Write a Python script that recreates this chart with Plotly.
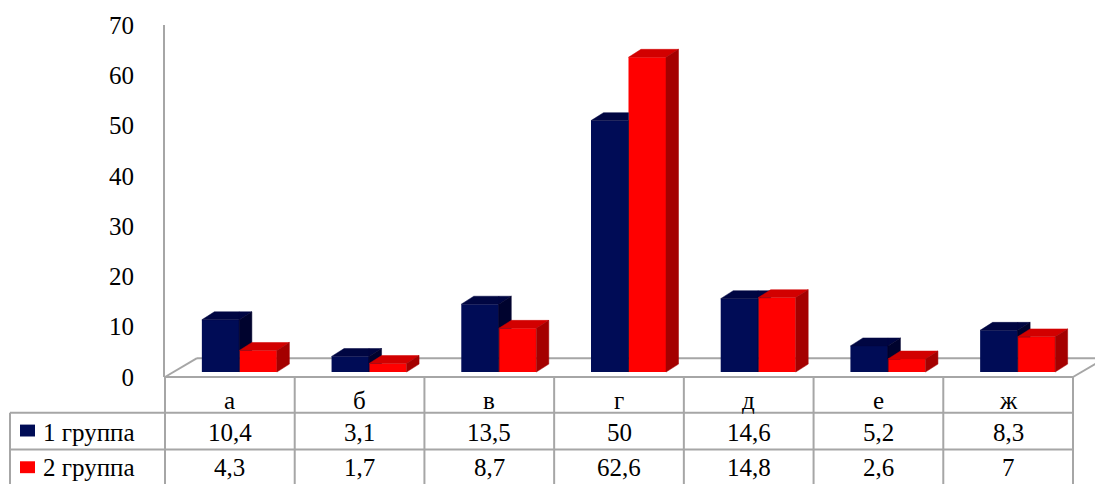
import plotly.graph_objects as go

# ---- data -------------------------------------------------------------
categories = ["а", "б", "в", "г", "д", "е", "ж"]
group1 = [10.4, 3.1, 13.5, 50, 14.6, 5.2, 8.3]
group2 = [4.3, 1.7, 8.7, 62.6, 14.8, 2.6, 7]
series_names = ["1 группа", "2 группа"]
y_ticks = [0, 10, 20, 30, 40, 50, 60, 70]

# ---- geometry / style ---------------------------------------------------
W, H = 1095, 484
ML, MR, MT, MB = 165, 22, 22, 107
PW, PH = W - ML - MR, H - MT - MB
Y_MAX = 70
N = len(categories)
PX_Y = PH / Y_MAX          # pixels per value unit
PX_X = PW / N              # pixels per category

BACK_DX, BACK_DY = 9.5, 5      # bars stand on the middle of the floor
DEPTH_DX, DEPTH_DY = 12.5, 8   # bar depth (pixel offsets)
FLOOR_DX, FLOOR_DY = 32, 19    # floor depth
BAR_PX = 37.5                  # single bar width in pixels

GRID = "#a6a6a6"

front = ["#000c56", "#ff0000"]
top_c = ["#000642", "#d20000"]
side_c = ["#00032e", "#a40000"]

bw = BAR_PX / PX_X
ddx = DEPTH_DX / PX_X
ddy = DEPTH_DY / PX_Y
x_shift = BACK_DX / PX_X
y_shift = BACK_DY / PX_Y


def px_x(px):
    return (px - ML) / PW


def px_y(py):
    return (H - MB - py) / PH


def clip(poly, a, b, c):
    """Keep the part of a convex polygon where a*x + b*y + c >= 0."""
    out = []
    n = len(poly)
    for i in range(n):
        p, q = poly[i], poly[(i + 1) % n]
        fp = a * p[0] + b * p[1] + c
        fq = a * q[0] + b * q[1] + c
        if fp >= 0:
            out.append(p)
        if (fp >= 0) != (fq >= 0):
            t = fp / (fp - fq)
            out.append((p[0] + t * (q[0] - p[0]), p[1] + t * (q[1] - p[1])))
    return out


def to_xy(polys):
    xs, ys = [], []
    for pg in polys:
        if len(pg) < 3:
            continue
        xs += [p[0] for p in pg] + [pg[0][0], None]
        ys += [p[1] for p in pg] + [pg[0][1], None]
    return xs, ys


fig = go.Figure()

series = [group1, group2]
for k, vals in enumerate(series):
    fig.add_trace(go.Bar(
        x=list(range(N)), y=vals, name=series_names[k],
        marker=dict(color=front[k], line=dict(width=0)),
        xaxis="x2", yaxis="y2", showlegend=False, hoverinfo="skip",
    ))

# top and side faces of the columns
for k, vals in enumerate(series):
    tops, sides = [], []
    for i, v in enumerate(vals):
        x0 = i - bw + k * bw
        x1 = x0 + bw
        top = [(x0, v), (x1, v), (x1 + ddx, v + ddy), (x0 + ddx, v + ddy)]
        side = [(x1, 0), (x1, v), (x1 + ddx, v + ddy), (x1 + ddx, ddy)]
        if k == 0:
            # hide what lies behind the neighbouring front face
            r = series[1][i]
            for pg, acc in ((top, tops), (side, sides)):
                acc.append(clip(pg, -1, 0, x1))
                acc.append(clip(clip(pg, 1, 0, -x1), 0, 1, -r))
        else:
            tops.append(top)
            sides.append(side)
    for polys, col in ((tops, top_c[k]), (sides, side_c[k])):
        xs, ys = to_xy(polys)
        fig.add_trace(go.Scatter(
            x=xs, y=ys, mode="lines", fill="toself", fillcolor=col,
            line=dict(color=col, width=0.5), xaxis="x2", yaxis="y2",
            showlegend=False, hoverinfo="skip",
        ))

shapes = []
line = dict(color=GRID, width=2)

# floor
fb = H - MB
shapes += [
    dict(type="line", xref="paper", yref="paper", layer="below",
         x0=px_x(ML), y0=px_y(fb), x1=px_x(ML + FLOOR_DX), y1=px_y(fb - FLOOR_DY), line=line),
    dict(type="line", xref="paper", yref="paper", layer="below",
         x0=px_x(ML + FLOOR_DX), y0=px_y(fb - FLOOR_DY), x1=px_x(ML + PW + FLOOR_DX),
         y1=px_y(fb - FLOOR_DY), line=line),
    dict(type="line", xref="paper", yref="paper", layer="below",
         x0=px_x(ML + PW), y0=px_y(fb), x1=px_x(ML + PW + FLOOR_DX), y1=px_y(fb - FLOOR_DY), line=line),
]

# data table grid
row_lines = [fb, 413, 450]
left_edge = 10
for j, ry in enumerate(row_lines):
    xa = ML if j == 0 else left_edge
    shapes.append(dict(type="line", xref="paper", yref="paper",
                       x0=px_x(xa), y0=px_y(ry), x1=px_x(ML + PW), y1=px_y(ry), line=line))
for c in range(N + 1):
    xc = ML + c * PX_X
    shapes.append(dict(type="line", xref="paper", yref="paper",
                       x0=px_x(xc), y0=px_y(fb), x1=px_x(xc), y1=px_y(H + 5), line=line))
shapes.append(dict(type="line", xref="paper", yref="paper",
                   x0=px_x(left_edge), y0=px_y(413), x1=px_x(left_edge), y1=px_y(H + 5), line=line))

# legend keys in the table
key_rows = [(425, 437), (462, 474)]
for k, (ya, yb) in enumerate(key_rows):
    shapes.append(dict(type="rect", xref="paper", yref="paper",
                       x0=px_x(20), x1=px_x(35), y0=px_y(yb), y1=px_y(ya),
                       fillcolor=front[k], line=dict(width=0)))

annotations = []
cat_y, row_y = 401, [433, 468]
for i, cat in enumerate(categories):
    annotations.append(dict(x=i, xref="x", y=px_y(cat_y), yref="paper", text=cat,
                            showarrow=False, xanchor="center", yanchor="middle"))
    for k, vals in enumerate(series):
        annotations.append(dict(x=i, xref="x", y=px_y(row_y[k]), yref="paper",
                                text=f"{vals[i]:g}".replace(".", ","),
                                showarrow=False, xanchor="center", yanchor="middle"))
for k, name in enumerate(series_names):
    annotations.append(dict(x=px_x(41), xref="paper", y=px_y(row_y[k]), yref="paper", text=name,
                            showarrow=False, xanchor="left", yanchor="middle"))

fig.update_layout(
    width=W, height=H,
    margin=dict(l=ML, r=MR, t=MT, b=MB),
    paper_bgcolor="white", plot_bgcolor="white",
    barmode="group", bargap=1 - 2 * bw, bargroupgap=0,
    font=dict(family="Liberation Serif", size=25, color="black"),
    xaxis=dict(range=[-0.5, N - 0.5], showticklabels=False, showgrid=False,
               zeroline=False, showline=False),
    yaxis=dict(range=[0, Y_MAX], tickvals=y_ticks, showgrid=False, zeroline=False,
               showline=True, linecolor=GRID, linewidth=2,
               ticks="outside", ticklen=24, tickcolor="rgba(0,0,0,0)"),
    xaxis2=dict(range=[-0.5 - x_shift, N - 0.5 - x_shift], overlaying="x", anchor="y2",
                visible=False),
    yaxis2=dict(range=[-y_shift, Y_MAX - y_shift], overlaying="y", anchor="x2",
                visible=False),
    shapes=shapes, annotations=annotations, showlegend=False,
)

fig.write_html("out.html")
